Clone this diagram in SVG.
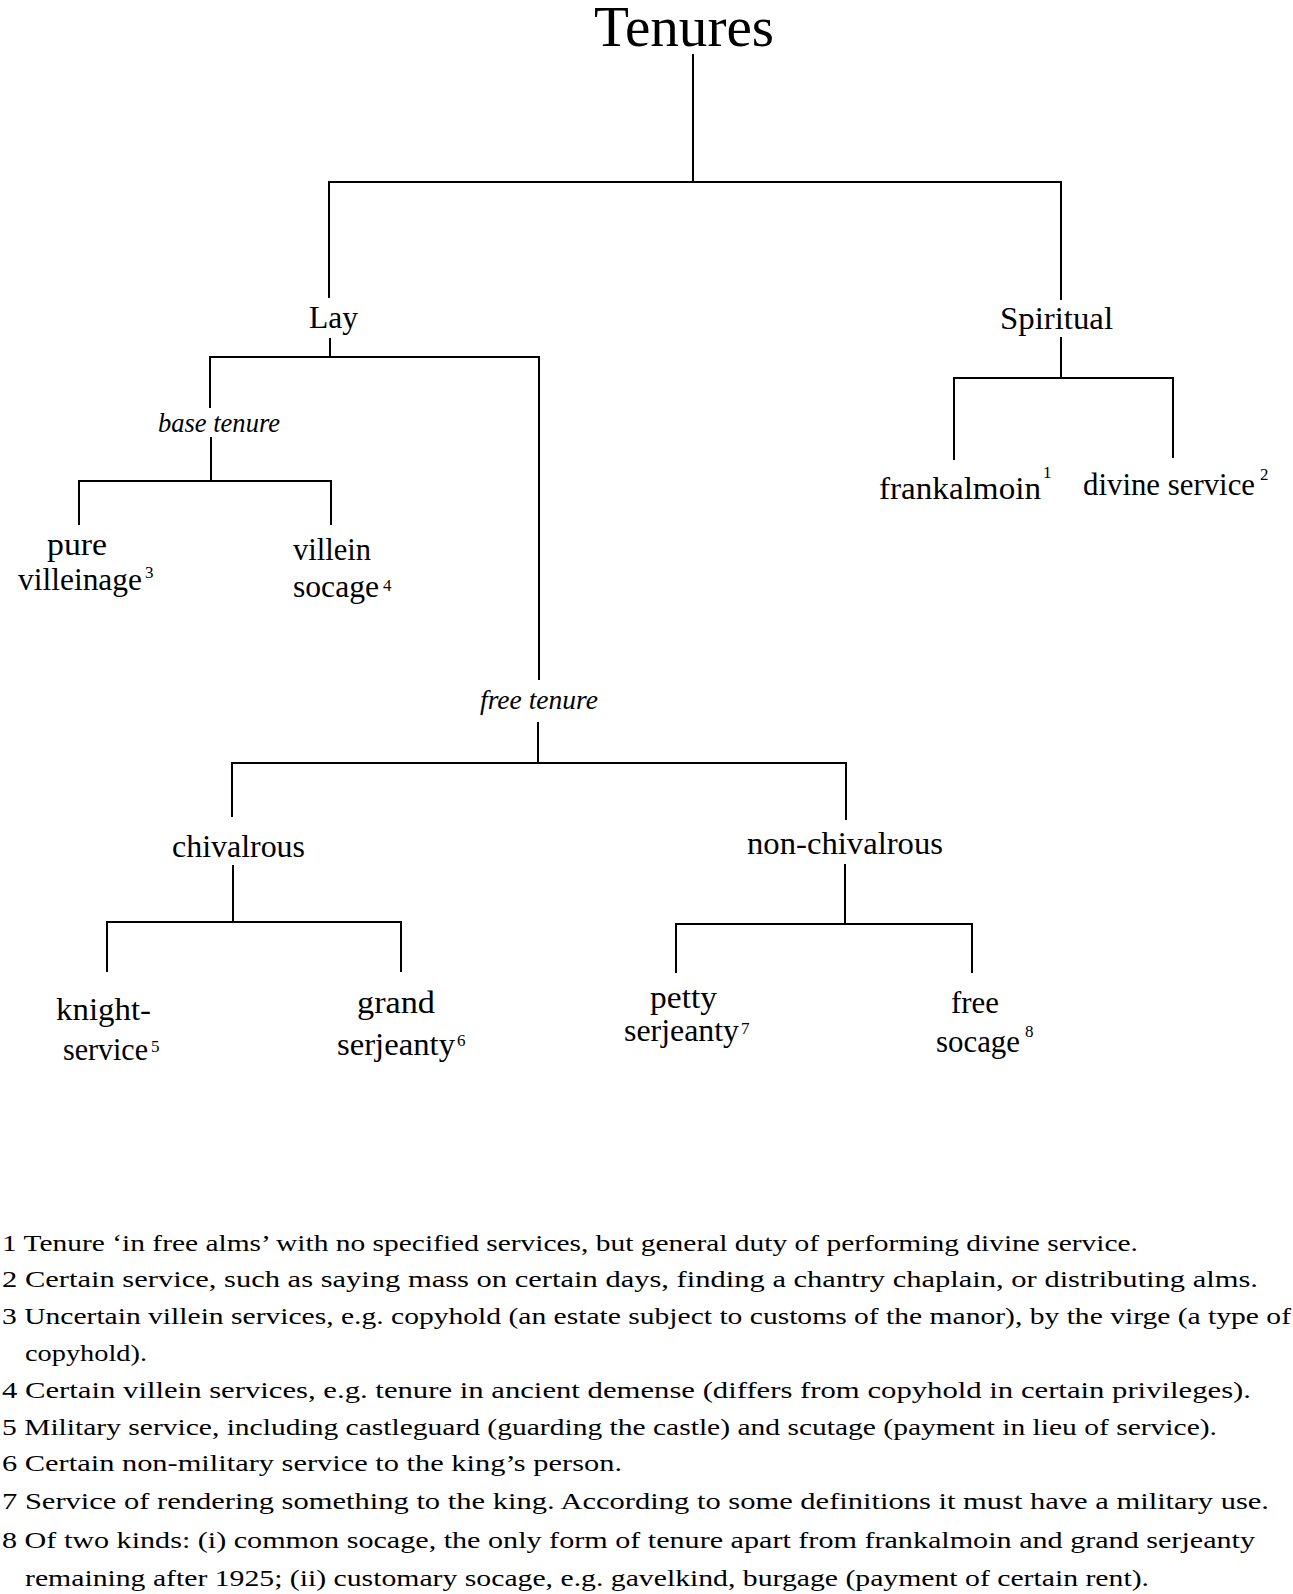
<svg xmlns="http://www.w3.org/2000/svg" width="1293" height="1594" viewBox="0 0 1293 1594">
<style>
text{font-family:"Liberation Serif","Times New Roman",serif;fill:#000}
.t{font-size:56px}
.l{font-size:32px}
.i{font-size:28px;font-style:italic}
.s{font-size:17px}
.f{font-size:23px}
.c path{stroke:#000;stroke-width:2;fill:none}
</style>
<rect width="1293" height="1594" fill="#fff"/>
<g class="c" id="connectors">
<path d="M693 54V182M329 298V182H1061V300"/>
<path d="M330 338V357M210 408V357H539V680"/>
<path d="M211 437V481M79 525V481H331V525"/>
<path d="M538 722V763M232 817V763H846V820"/>
<path d="M233 865V922M107 972V922H401V972"/>
<path d="M845 864V924M676 973V924H972V973"/>
<path d="M1061 337V378M954 460V378H1173V458"/>
</g>
<g id="n-tenures"><text class="t" x="594" y="46" textLength="180" lengthAdjust="spacingAndGlyphs">Tenures</text></g>
<g id="n-lay"><text class="l" x="309" y="328" textLength="49" lengthAdjust="spacingAndGlyphs">Lay</text></g>
<g id="n-spiritual"><text class="l" x="1000" y="329" textLength="113" lengthAdjust="spacingAndGlyphs">Spiritual</text></g>
<g id="n-base"><text class="i" x="158" y="432" textLength="122" lengthAdjust="spacingAndGlyphs">base tenure</text></g>
<g id="n-pure"><text class="l" x="47" y="555" textLength="60" lengthAdjust="spacingAndGlyphs">pure</text><text class="l" x="18" y="590" textLength="124" lengthAdjust="spacingAndGlyphs">villeinage</text><text class="s" x="145" y="578">3</text></g>
<g id="n-villein"><text class="l" x="293" y="560" textLength="78" lengthAdjust="spacingAndGlyphs">villein</text><text class="l" x="293" y="597" textLength="86" lengthAdjust="spacingAndGlyphs">socage</text><text class="s" x="383" y="591">4</text></g>
<g id="n-free-tenure"><text class="i" x="480" y="709" textLength="118" lengthAdjust="spacingAndGlyphs">free tenure</text></g>
<g id="n-chivalrous"><text class="l" x="172" y="857" textLength="133" lengthAdjust="spacingAndGlyphs">chivalrous</text></g>
<g id="n-non-chivalrous"><text class="l" x="747" y="854" textLength="196" lengthAdjust="spacingAndGlyphs">non-chivalrous</text></g>
<g id="n-knight"><text class="l" x="56" y="1020" textLength="95" lengthAdjust="spacingAndGlyphs">knight-</text><text class="l" x="63" y="1060" textLength="85" lengthAdjust="spacingAndGlyphs">service</text><text class="s" x="151" y="1052">5</text></g>
<g id="n-grand"><text class="l" x="357" y="1013" textLength="78" lengthAdjust="spacingAndGlyphs">grand</text><text class="l" x="337" y="1055" textLength="118" lengthAdjust="spacingAndGlyphs">serjeanty</text><text class="s" x="457" y="1046">6</text></g>
<g id="n-petty"><text class="l" x="650" y="1008" textLength="67" lengthAdjust="spacingAndGlyphs">petty</text><text class="l" x="624" y="1041" textLength="115" lengthAdjust="spacingAndGlyphs">serjeanty</text><text class="s" x="741" y="1034">7</text></g>
<g id="n-free-socage"><text class="l" x="951" y="1013" textLength="48" lengthAdjust="spacingAndGlyphs">free</text><text class="l" x="936" y="1052" textLength="84" lengthAdjust="spacingAndGlyphs">socage</text><text class="s" x="1025" y="1037">8</text></g>
<g id="n-frankalmoin"><text class="l" x="879" y="499" textLength="162" lengthAdjust="spacingAndGlyphs">frankalmoin</text><text class="s" x="1043" y="478">1</text></g>
<g id="n-divine"><text class="l" x="1083" y="495" textLength="172" lengthAdjust="spacingAndGlyphs">divine service</text><text class="s" x="1260" y="480">2</text></g>
<g id="footnotes">
<text class="f" x="2" y="1251" textLength="1136" lengthAdjust="spacingAndGlyphs">1 Tenure ‘in free alms’ with no specified services, but general duty of performing divine service.</text>
<text class="f" x="2" y="1287" textLength="1256" lengthAdjust="spacingAndGlyphs">2 Certain service, such as saying mass on certain days, finding a chantry chaplain, or distributing alms.</text>
<text class="f" x="2" y="1324" textLength="1289" lengthAdjust="spacingAndGlyphs">3 Uncertain villein services, e.g. copyhold (an estate subject to customs of the manor), by the virge (a type of</text>
<text class="f" x="25" y="1361" textLength="122" lengthAdjust="spacingAndGlyphs">copyhold).</text>
<text class="f" x="2" y="1398" textLength="1249" lengthAdjust="spacingAndGlyphs">4 Certain villein services, e.g. tenure in ancient demense (differs from copyhold in certain privileges).</text>
<text class="f" x="2" y="1435" textLength="1215" lengthAdjust="spacingAndGlyphs">5 Military service, including castleguard (guarding the castle) and scutage (payment in lieu of service).</text>
<text class="f" x="2" y="1471" textLength="620" lengthAdjust="spacingAndGlyphs">6 Certain non-military service to the king’s person.</text>
<text class="f" x="2" y="1509" textLength="1267" lengthAdjust="spacingAndGlyphs">7 Service of rendering something to the king. According to some definitions it must have a military use.</text>
<text class="f" x="2" y="1548" textLength="1253" lengthAdjust="spacingAndGlyphs">8 Of two kinds: (i) common socage, the only form of tenure apart from frankalmoin and grand serjeanty</text>
<text class="f" x="25" y="1586" textLength="1124" lengthAdjust="spacingAndGlyphs">remaining after 1925; (ii) customary socage, e.g. gavelkind, burgage (payment of certain rent).</text>
</g>
</svg>
